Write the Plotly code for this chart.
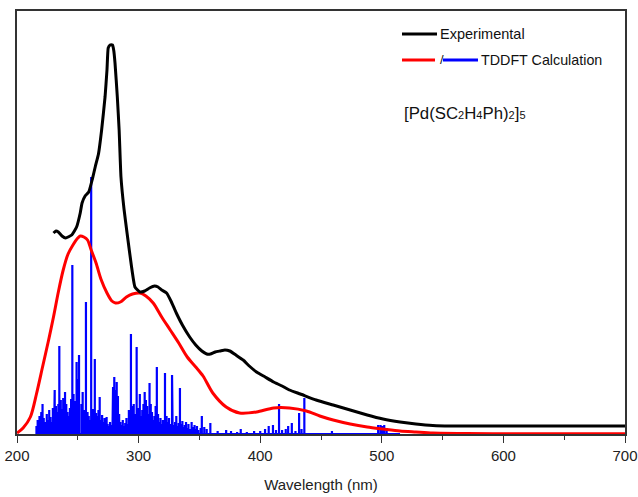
import plotly.graph_objects as go

# ---------------- data ----------------
exp_wl = [230, 232, 234, 237, 240, 245, 249, 252, 253.5, 256, 259, 262, 264.5, 267, 269.6, 272.4,
          274, 275, 276.5, 278.5, 279.5, 280.6, 282.5, 284, 285.5, 288, 290.5, 294, 297, 301, 305,
          309, 313, 316, 319, 323, 327, 331, 336, 342, 347, 352, 356, 359, 363, 367, 371, 375, 380,
          386, 391, 397, 404, 411, 418, 424, 433, 446, 460, 474, 488, 501, 515, 528, 542, 556, 570,
          600, 650, 700]
exp_val = [201, 203, 202, 198, 196, 199, 207, 221, 231, 238, 242, 255, 268, 280, 304, 337,
           364, 386, 389, 389, 384, 371, 337, 304, 257, 225, 201, 169, 147, 142, 143,
           146, 148, 147, 144, 141, 132, 121, 109, 97, 89, 83, 80, 80, 82, 83, 84, 83, 79,
           74, 68, 62, 57, 52, 48, 44, 40, 34, 29, 24, 19, 15, 12, 10, 8.5, 8, 8,
           8, 8, 8]

calc_wl = [200, 205, 211, 216, 221, 226, 230, 234, 238, 242, 246, 250, 252, 255, 258, 261, 265,
           269, 274, 278, 281, 285, 290, 295, 301, 306, 312, 319, 326, 333, 340, 347, 353, 361,
           372, 383, 397, 411, 424, 438, 449, 460, 474, 488, 501, 515, 528, 542, 570, 600, 700]
calc_val = [1, 6, 17, 40, 67, 94, 117, 142, 164, 180, 189, 196, 198, 197, 194, 184, 171,
            155, 141, 133, 131, 132, 137, 140, 141, 138, 131, 117, 104, 91, 77, 67, 58, 41,
            27, 21, 22, 26, 26, 23, 18, 14, 10, 7, 5, 3, 2, 1, 0.5, 0.3, 0.3]

# TDDFT oscillator sticks (wavelength nm, height)
stick_wl = [216, 217, 218.5, 219.5, 220, 221, 222, 223, 224.5, 225.5, 226.5, 227.5, 228.5, 229.5,
            230.5, 231, 232, 233, 234, 234.8, 236, 237, 238, 239.5, 240.5, 241.5, 242.5, 243.5,
            244.5, 245.5, 246.5, 247.5, 248, 249, 250, 251, 253, 254, 255, 256.7, 258, 259, 260,
            261, 262.5, 263, 264, 265, 266, 267, 268, 269, 270, 271, 272, 273.7, 274.5, 275.5,
            276.5, 277.5, 278.5, 279, 280, 281, 282, 283, 284, 285, 286, 287, 288, 289, 290, 291,
            292, 293.7, 295, 296, 297, 298.4, 300, 301, 302, 303, 304, 305, 306, 307, 308, 309,
            310, 311, 312, 313, 314, 315, 316, 317, 318, 319, 320, 321.7, 323, 324, 325, 326,
            327.5, 328, 329, 330, 331, 332, 333, 334, 335, 336, 337, 338, 339, 340, 341, 342,
            343.6, 345, 346, 347, 348, 349, 351, 352, 354, 356, 359, 365, 372, 376, 381, 384,
            389, 395, 400, 404, 407, 410.5, 413, 415.5, 418, 421, 423, 426, 429, 432, 434, 436.3,
            459, 482, 497, 499, 500.5, 502, 504, 513]
stick_val = [8, 14, 18, 11, 22, 30, 16, 12, 20, 14, 24, 17, 12, 26, 20, 44, 28, 22, 30, 88,
             34, 25, 36, 42, 30, 22, 18, 26, 35, 169, 40, 28, 33, 72, 55, 79, 30, 42, 24, 132,
             22, 18, 14, 257, 25, 16, 75, 21, 18, 24, 37, 14, 19, 12, 16, 17, 10, 8, 12, 9,
             40, 47, 57, 44, 52, 38, 20, 12, 9, 14, 8, 11, 16, 10, 24, 100, 28, 30, 20, 87,
             26, 40, 18, 24, 30, 42, 34, 28, 20, 51, 30, 22, 14, 18, 28, 67, 20, 12, 16, 10,
             14, 61, 18, 12, 16, 10, 59, 14, 9, 12, 18, 8, 11, 46, 10, 13, 7, 9, 12, 6,
             10, 5, 12, 7, 9, 5, 8, 4, 6, 18, 7, 5, 11, 3, 4, 3, 2, 5,
             2, 3, 3, 5, 8, 9, 4, 30, 4, 5, 8, 11, 3, 21, 5, 36,
             3, 1, 9, 9, 8, 9, 6, 1]

x_ticks = [200, 300, 400, 500, 600, 700]

# build stick spectrum path from stick data
pairs = sorted(zip(stick_wl, stick_val))
bx, by = [215.5], [0]
for w, h in pairs:
    bx += [w, w, w]
    by += [0, h, 0]
bx.append(515)
by.append(0)

fig = go.Figure()
fig.add_trace(go.Scatter(x=bx, y=by, mode="lines", line=dict(color="#0000ff", width=2.2),
                         showlegend=False, hoverinfo="skip"))
fig.add_trace(go.Scatter(x=calc_wl, y=calc_val, mode="lines",
                         line=dict(color="#ff0000", width=3, shape="spline", smoothing=0.8),
                         showlegend=False))
fig.add_trace(go.Scatter(x=exp_wl, y=exp_val, mode="lines",
                         line=dict(color="#000000", width=3, shape="spline", smoothing=0.4),
                         showlegend=False))

# legend built from shapes + annotations (positions relative to plot area 17..625 x 11..434)
def px(x):
    return (x - 17) / 608

def py(y):
    return (434 - y) / 423

fig.add_shape(type="line", xref="paper", yref="paper", x0=px(402), x1=px(437),
              y0=py(34), y1=py(34), line=dict(color="black", width=3))
fig.add_shape(type="line", xref="paper", yref="paper", x0=px(402), x1=px(435),
              y0=py(60), y1=py(60), line=dict(color="#ff0000", width=3))
fig.add_shape(type="line", xref="paper", yref="paper", x0=px(443), x1=px(478),
              y0=py(60), y1=py(60), line=dict(color="#0000ff", width=3))
fig.add_annotation(xref="paper", yref="paper", x=px(438), y=py(34), text="Experimental",
                   showarrow=False, xanchor="left", yanchor="middle",
                   font=dict(family="Liberation Sans, Arial", size=14.5, color="#111"))
fig.add_annotation(xref="paper", yref="paper", x=px(437.5), y=py(60), text="/",
                   showarrow=False, xanchor="left", yanchor="middle",
                   font=dict(family="Liberation Sans, Arial", size=13, color="#111"))
fig.add_annotation(xref="paper", yref="paper", x=px(479), y=py(60), text="TDDFT Calculation",
                   showarrow=False, xanchor="left", yanchor="middle",
                   font=dict(family="Liberation Sans, Arial", size=14.3, color="#111"))
sub = "<span style='font-size:11px'>%s</span>"
fig.add_annotation(xref="paper", yref="paper", x=px(402), y=py(113),
                   text="[Pd(SC" + sub % "2" + "H" + sub % "4" + "Ph)" + sub % "2" + "]" + sub % "5",
                   showarrow=False, xanchor="left", yanchor="middle",
                   font=dict(family="Liberation Sans, Arial", size=16.8, color="#111"))

fig.update_layout(
    width=638, height=497,
    margin=dict(l=17, r=13, t=11, b=63),
    paper_bgcolor="white", plot_bgcolor="white",
    font=dict(family="Liberation Sans, Arial", color="#222"),
    xaxis=dict(range=[200, 700], tickvals=x_ticks, ticktext=[str(v) for v in x_ticks],
               automargin=False, ticklabeloverflow="allow",
               ticks="outside", ticklen=7, tickwidth=1.3, tickcolor="#333",
               minor=dict(dtick=50, tick0=200, ticks="outside", ticklen=4, tickwidth=1.3, tickcolor="#333"),
               showline=True, linecolor="#333", linewidth=1.5, mirror=True,
               showgrid=False, zeroline=False,
               tickfont=dict(size=15, color="#222"),
               title=dict(text="Wavelength (nm)", font=dict(size=15, color="#222"), standoff=17)),
    yaxis=dict(range=[0, 423], showticklabels=False, ticks="", showline=True, linecolor="#333",
               automargin=False,
               linewidth=1.5, mirror=True, showgrid=False, zeroline=False),
)

# remove the browser's default body margin so the figure fills the window exactly
fig.write_html("out.html", config={"displayModeBar": False},
               post_script="document.body.style.margin='0';document.body.style.overflow='hidden';")
